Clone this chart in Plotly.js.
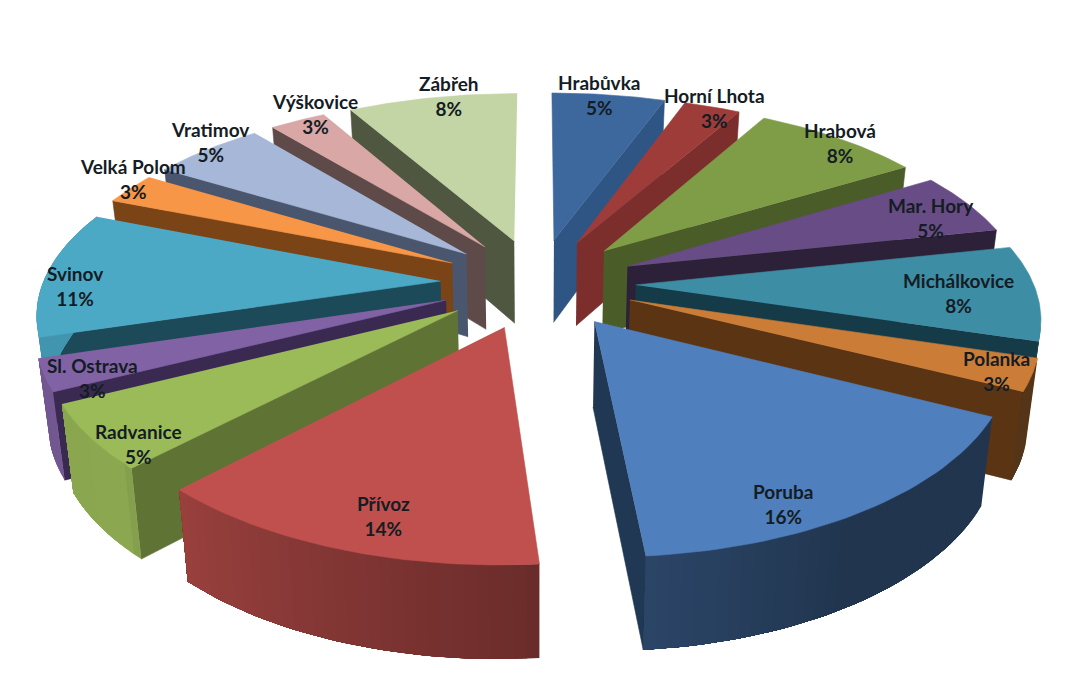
<!DOCTYPE html>
<html>
<head>
<meta charset="utf-8">
<script src="https://cdn.plot.ly/plotly-3.0.1.min.js"></script>
<style>
  html, body { margin: 0; padding: 0; background: #ffffff; }
  #chart { width: 1080px; height: 685px; }
</style>
</head>
<body>
<div id="chart"></div>
<script>
// chart data, clockwise from 12 o'clock (counts add up to 37)
var districts = ["Hrabůvka", "Horní Lhota", "Hrabová", "Mar. Hory", "Michálkovice", "Polanka", "Poruba", "Přívoz",
                 "Radvanice", "Sl. Ostrava", "Svinov", "Velká Polom", "Vratimov", "Výškovice", "Zábřeh"];
var counts = [2, 1, 3, 2, 3, 1, 6, 5, 2, 1, 4, 1, 2, 1, 3];

// slice colours
var topColors = ["#3C689E", "#9E3C39", "#7F9C47", "#684C85", "#3D8DA5", "#CB7D38", "#4F7FBD", "#C0504D",
                 "#9BBB59", "#8162A4", "#4BA9C6", "#F79646", "#A6B7D7", "#D9A7A5", "#C3D5A5"];
var sideColors = ["#2F5584", "#7C2E2C", "#4A5C27", "#2C2138", "#163B48", "#5B3413", "#203853", "#8F3D3A",
                  "#5F7335", "#3A2A52", "#1D4A58", "#7A4417", "#4A566E", "#5E4A49", "#4F5741"];

// where the labels sit on the page
var labelX = [599, 714, 840, 931, 958, 996, 783, 383, 138, 92, 75, 133, 210, 315, 449];
var labelY = [95, 108, 143, 218, 293, 371, 504, 516, 444, 378, 286, 179, 142, 114, 96];

// how the outer wall gets darker going round the pie
var shadeAngles = [100, 150, 175, 224, 225, 255];
var shadeFactors = [0.42, 0.42, 0.55, 0.8, 0.9, 0.88];

// camera of the fake 3d view
var cx = 538, cy = 283;     // where the pie centre lands
var scaleX = 397.5, scaleY = 183.5;
var persp = 0.161;          // front is larger than back
var perspX = 0.15;
var thickness = 84, thicknessPersp = 0.088;
var bottomShrink = 0.024;   // walls lean in slightly towards the bottom
var explode = 0.2457;
var cameraY = -1 / persp;

var deg = Math.PI / 180;

// ground position -> screen position, bottom=true for the lower rim
function project(X, Y, bottom) {
  var sx = X * scaleX / (1 + perspX * Y);
  var sy = cy - scaleY * Y / (1 + persp * Y);
  if (bottom) {
    sx = sx * (1 - bottomShrink);
    sy = sy + thickness / (1 + thicknessPersp * Y);
  }
  return [cx + sx, sy];
}

function darken(hex, f) {
  var r = parseInt(hex.substr(1, 2), 16), g = parseInt(hex.substr(3, 2), 16), b = parseInt(hex.substr(5, 2), 16);
  return "rgb(" + Math.round(r * f) + "," + Math.round(g * f) + "," + Math.round(b * f) + ")";
}

function shadeAt(angle) {
  if (angle <= shadeAngles[0]) return shadeFactors[0];
  for (var i = 1; i < shadeAngles.length; i++) {
    if (angle <= shadeAngles[i]) {
      var t = (angle - shadeAngles[i - 1]) / (shadeAngles[i] - shadeAngles[i - 1]);
      return shadeFactors[i - 1] + t * (shadeFactors[i] - shadeFactors[i - 1]);
    }
  }
  return shadeFactors[shadeFactors.length - 1];
}

// one filled polygon as a scatter trace
function face(points, color, lineWidth) {
  return {
    type: "scatter", mode: "lines", fill: "toself", fillcolor: color,
    x: points.map(function (p) { return p[0]; }),
    y: points.map(function (p) { return p[1]; }),
    line: { color: color, width: lineWidth },
    hoverinfo: "skip", showlegend: false
  };
}

var total = counts.reduce(function (a, b) { return a + b; }, 0);

// work out the slices from the counts
var slices = [], running = 0;
for (var i = 0; i < counts.length; i++) {
  var start = running / total * 360;
  running += counts[i];
  var end = running / total * 360;
  var mid = (start + end) / 2;
  slices.push({
    index: i, start: start, end: end, mid: mid,
    ox: explode * Math.sin(mid * deg), oy: explode * Math.cos(mid * deg)
  });
}

// back slices first so the front ones cover them
var order = slices.slice().sort(function (a, b) { return Math.cos(b.mid * deg) - Math.cos(a.mid * deg); });

var traces = [];
order.forEach(function (s) {
  var top = topColors[s.index], side = sideColors[s.index];
  var rim = function (a, bottom) {
    return project(s.ox + Math.sin(a * deg), s.oy + Math.cos(a * deg), bottom);
  };

  // flat cut faces (the 0.1 drops the hairline slivers along 12 o'clock)
  [[s.start, -1], [s.end, 1]].forEach(function (f) {
    var nx = f[1] * Math.cos(f[0] * deg), ny = -f[1] * Math.sin(f[0] * deg);
    if (nx * (0 - s.ox) + ny * (cameraY - s.oy) > 0.1) {
      traces.push(face([project(s.ox, s.oy, false), rim(f[0], false), rim(f[0], true), project(s.ox, s.oy, true)], side, 0.6));
    }
  });

  // outer wall in narrow strips for the gradient, each one overlaps the next so no seams show
  var steps = Math.ceil((s.end - s.start) / 1.5);
  for (var k = 0; k < steps; k++) {
    var a0 = s.start + (s.end - s.start) * k / steps;
    var a1 = s.start + (s.end - s.start) * (k + 1) / steps;
    var am = (a0 + a1) / 2;
    var nx = Math.sin(am * deg), ny = Math.cos(am * deg);
    if (nx * (0 - s.ox - nx) + ny * (cameraY - s.oy - ny) > 0) {
      var wall = [];
      var stripSteps = steps - k;
      for (var n = 0; n <= stripSteps; n++) {
        wall.push(rim(a0 + (s.end - a0) * n / stripSteps, false));
      }
      for (var n = stripSteps; n >= 0; n--) {
        wall.push(rim(a0 + (s.end - a0) * n / stripSteps, true));
      }
      traces.push(face(wall, darken(top, shadeAt(am)), 0));
    }
  }

  // top surface
  var outline = [project(s.ox, s.oy, false)];
  for (var a = 0; a <= 40; a++) {
    outline.push(rim(s.start + (s.end - s.start) * a / 40, false));
  }
  traces.push(face(outline, top, 0.6));
});

// labels: name and rounded share
var annotations = districts.map(function (name, i) {
  return {
    x: labelX[i], y: labelY[i], xref: "x", yref: "y", showarrow: false,
    text: name + "<br>" + Math.round(counts[i] / total * 100) + "%",
    align: "center", xanchor: "center", yanchor: "middle",
    font: { family: "Lato, 'Open Sans', sans-serif", size: 19, color: "#141c24", weight: 700 }
  };
});

var layout = {
  width: 1080, height: 685,
  margin: { l: 0, r: 0, t: 0, b: 0 },
  paper_bgcolor: "#ffffff", plot_bgcolor: "#ffffff",
  xaxis: { range: [0, 1080], visible: false, fixedrange: true },
  yaxis: { range: [685, 0], visible: false, fixedrange: true },
  annotations: annotations,
  showlegend: false
};

Plotly.newPlot("chart", traces, layout, { displayModeBar: false });
</script>
</body>
</html>
